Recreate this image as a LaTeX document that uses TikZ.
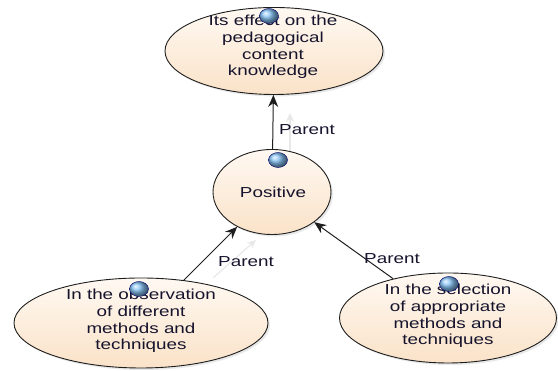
\documentclass[tikz,border=0pt]{standalone}
\usepackage{fontspec}
\setmainfont{Liberation Sans}[FakeStretch=1.3]
\usetikzlibrary{shapes.geometric,arrows.meta,shadows}
\definecolor{txtc}{RGB}{22,20,45}
\definecolor{bubtop}{RGB}{255,249,242}
\definecolor{bubbot}{RGB}{250,226,200}
\definecolor{edgec}{RGB}{30,30,30}
\definecolor{knobc}{RGB}{135,195,245}
\begin{document}
\begin{tikzpicture}[x=1pt,y=1pt,
  bub/.style={ellipse, draw=edgec, line width=0.9pt, top color=bubtop, bottom color=bubbot, inner sep=0pt,
    drop shadow={opacity=0.18, shadow xshift=2pt, shadow yshift=-2pt}},
  txt/.style={align=center, text=txtc, font=\fontsize{14.5}{16.8}\selectfont, inner sep=0pt},
  lbl/.style={text=txtc, font=\fontsize{14.5}{16.8}\selectfont, inner sep=0pt},
  knob/.style={ellipse, minimum width=19pt, minimum height=15pt, inner sep=0pt, ball color=knobc, draw=blue!45!black, line width=0.4pt},
  conn/.style={draw=edgec, line width=1pt, -{Stealth[length=12pt,width=10pt]}},
  ghost/.style={draw=gray!18, line width=1.2pt, -{Stealth[length=9pt,width=8pt]}}
]
\useasboundingbox (0,0) rectangle (558,371);
% nodes
\node[bub, minimum width=218pt, minimum height=87pt] (top) at (274,320) {};
\node[bub, minimum width=118pt, minimum height=85pt] (pos) at (272,179) {};
\node[bub, minimum width=254pt, minimum height=90pt] (bl) at (141,48) {};
\node[bub, minimum width=217pt, minimum height=90pt] (br) at (448,53) {};
% ghost arrows
\coordinate (g1s) at (290,220);
\coordinate (g1e) at (290,258);
\coordinate (g2s) at (213,93);
\coordinate (g2e) at (256,131);
\draw[ghost] (g1s) -- (g1e);
\draw[ghost] (g2s) -- (g2e);
% connectors
\draw[conn] (pos) -- (top);
\draw[conn] (bl) -- (pos);
\draw[conn] (br) -- (pos);
% texts
\node[txt] (toptxt) at (273,324) {Its effect on the\\pedagogical\\content\\knowledge};
\node[txt] (postxt) at (273,179) {Positive};
\node[txt] (bltxt) at (141,50) {In the observation\\of different\\methods and\\techniques};
\node[txt] (brtxt) at (448,55) {In the selection\\of appropriate\\methods and\\techniques};
% labels
\node[lbl] (l1) at (307,241) {Parent};
\node[lbl] (l2) at (246,109) {Parent};
\node[lbl] (l3) at (392,112) {Parent};
% knobs
\node[knob] (k1) at (269,355) {};
\node[knob] (k2) at (278,211) {};
\node[knob] (k3) at (139,82) {};
\node[knob] (k4) at (449,87) {};
\end{tikzpicture}
\end{document}
